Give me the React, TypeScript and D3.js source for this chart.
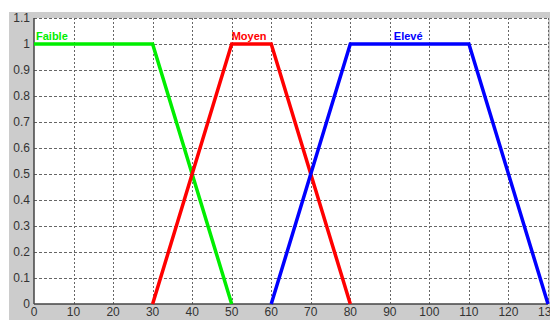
import React, { useEffect, useRef } from "react";
import * as d3 from "d3";

const xTicks = [0, 10, 20, 30, 40, 50, 60, 70, 80, 90, 100, 110, 120, 130];
const yTicks = [0, 0.1, 0.2, 0.3, 0.4, 0.5, 0.6, 0.7, 0.8, 0.9, 1, 1.1];

const faibleX = [0, 30, 50];
const faibleY = [1, 1, 0];
const moyenX = [30, 50, 60, 80];
const moyenY = [0, 1, 1, 0];
const eleveX = [60, 80, 110, 130];
const eleveY = [0, 1, 1, 0];

const seriesNames = ["Faible", "Moyen", "Elevé"];
const seriesColors = ["#00ee00", "#ff0000", "#0000ff"];
const labelAt = [0, 50, 90];

export default function App() {
  const ref = useRef<SVGSVGElement>(null);
  useEffect(() => {
    const svg = d3.select(ref.current);
    svg.selectAll("*").remove();
    const W = 550, H = 320;
    const x = d3.scaleLinear().domain([0, 130]).range([34, 548]);
    const y = d3.scaleLinear().domain([0, 1.1]).range([304, 18]);
    const font = "Arial, 'Liberation Sans', sans-serif";

    svg.append("rect").attr("x", 0).attr("y", 0).attr("width", W).attr("height", H).attr("fill", "#fff");
    svg.append("rect").attr("x", 9).attr("y", 12).attr("width", W - 9).attr("height", H - 12).attr("fill", "#cccccc");
    svg.append("rect").attr("x", x(0)).attr("y", y(1.1)).attr("width", x(130) - x(0)).attr("height", y(0) - y(1.1)).attr("fill", "#ffffff");

    const g = svg.append("g");
    // grid
    g.selectAll("line.gx").data(xTicks.slice(1)).enter().append("line")
      .attr("x1", d => Math.round(x(d)) + 0.5).attr("x2", d => Math.round(x(d)) + 0.5).attr("y1", y(0)).attr("y2", y(1.1))
      .attr("stroke", "#666").attr("stroke-width", 1).attr("stroke-dasharray", "2,2");
    g.selectAll("line.gy").data(yTicks.slice(1)).enter().append("line")
      .attr("x1", x(0)).attr("x2", x(130)).attr("y1", d => Math.round(y(d)) + 0.5).attr("y2", d => Math.round(y(d)) + 0.5)
      .attr("stroke", "#666").attr("stroke-width", 1).attr("stroke-dasharray", "3,2");

    // axes lines
    g.append("line").attr("x1", x(0)).attr("x2", x(0)).attr("y1", y(0)).attr("y2", y(1.1)).attr("stroke", "#444").attr("stroke-width", 1.5);
    g.append("line").attr("x1", x(0)).attr("x2", x(130)).attr("y1", y(0)).attr("y2", y(0)).attr("stroke", "#444").attr("stroke-width", 1.5);

    // tick labels
    g.selectAll("text.xt").data(xTicks).enter().append("text")
      .attr("x", d => x(d)).attr("y", 316).attr("text-anchor", "middle")
      .attr("font-family", font).attr("font-size", 12)
      .attr("fill", "#333").text(d => String(d));
    g.selectAll("text.yt").data(yTicks).enter().append("text")
      .attr("x", 30).attr("y", d => y(d) + 4).attr("text-anchor", "end")
      .attr("font-family", font).attr("font-size", 12)
      .attr("fill", "#333").text(d => String(d));

    const data = [
      faibleX.map((v, i) => [v, faibleY[i]] as [number, number]),
      moyenX.map((v, i) => [v, moyenY[i]] as [number, number]),
      eleveX.map((v, i) => [v, eleveY[i]] as [number, number]),
    ];
    const line = d3.line<[number, number]>().x(d => x(d[0])).y(d => y(d[1]));
    data.forEach((pts, i) => {
      g.append("path").attr("d", line(pts)!).attr("fill", "none")
        .attr("stroke", seriesColors[i]).attr("stroke-width", 3.5).attr("stroke-linejoin", "miter");
      g.append("text").attr("x", x(labelAt[i]) + (i === 2 ? 4 : 2) - (i === 1 ? 2 : 0)).attr("y", y(1) - 4)
        .attr("font-family", font).attr("font-size", 11)
        .attr("font-weight", "bold").attr("fill", seriesColors[i]).text(seriesNames[i]);
    });
  }, []);
  return (
    <svg ref={ref} width={550} height={320}
      style={{ position: "absolute", left: 0, top: 0, display: "block" }} />
  );
}
